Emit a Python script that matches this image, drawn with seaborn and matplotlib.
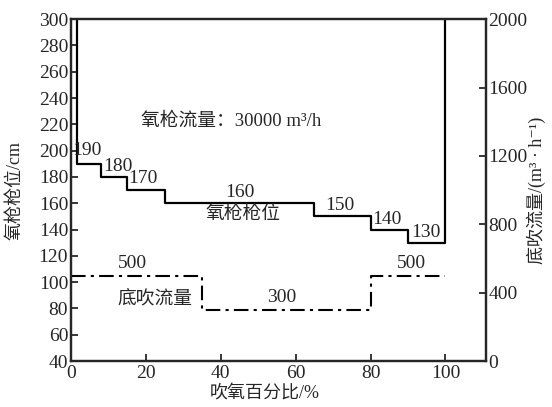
import numpy as np
import pandas as pd
import matplotlib
matplotlib.use("Agg")
from matplotlib import pyplot as plt
import seaborn as sns

# lance height steps (cm) vs oxygen blowing percentage
lance_breaks = [1.5, 8, 15, 25, 65, 80, 90, 100]
lance_levels = [190, 180, 170, 160, 150, 140, 130]
lance_top = 300

# bottom blowing flow (m3/h)
flow_breaks = [0, 35, 80, 100]
flow_levels = [500, 300, 500]

lance_label_pos = [(4.3, 200), (12.4, 188), (19.2, 178.5), (45, 168.5),
                   (71.7, 158.5), (84.3, 147.5), (94.8, 138)]
flow_label_pos = [(16.5, 114), (56.3, 88.5), (91, 114)]

sns.set_style("ticks")
num_font = ["Liberation Serif", "Noto Sans CJK SC", "DejaVu Sans"]
cjk_font = ["Noto Sans CJK SC", "DejaVu Sans"]
plt.rcParams["font.family"] = num_font

# build the step paths
lx, ly = [lance_breaks[0]], [lance_top]
for i, lv in enumerate(lance_levels):
    lx += [lance_breaks[i], lance_breaks[i + 1]]
    ly += [lv, lv]
lx.append(lance_breaks[-1])
ly.append(lance_top)
df_lance = pd.DataFrame({"x": lx, "y": ly})

fx, fy = [], []
for i, fv in enumerate(flow_levels):
    fx += [flow_breaks[i], flow_breaks[i + 1]]
    fy += [fv, fv]
df_flow = pd.DataFrame({"x": fx, "y": fy})

fig = plt.figure(figsize=(5.52, 4.07), dpi=100)
ax = fig.add_axes([0.1286, 0.113, 0.751, 0.840])
ax2 = ax.twinx()

sns.lineplot(data=df_lance, x="x", y="y", sort=False, estimator=None,
             color="black", linewidth=1.6, ax=ax)
sns.lineplot(data=df_flow, x="x", y="y", sort=False, estimator=None,
             color="black", linewidth=1.5, linestyle=(0, (7, 2.5, 1.5, 2.5)), ax=ax2)

ax.set_xlim(0, 110.7)
ax.set_ylim(40, 300)
ax2.set_ylim(0, 2000)
ax.set_xticks(range(0, 101, 20))
ax.set_yticks(range(40, 301, 20))
ax2.set_yticks(range(0, 2001, 400))

for a in (ax, ax2):
    for s in a.spines.values():
        s.set_visible(True)
        s.set_linewidth(1.6)
    a.tick_params(direction="in", length=5, width=1.3, labelsize=14, pad=2)
ax.tick_params(axis="x", pad=3)

for (tx, ty), lv in zip(lance_label_pos, lance_levels):
    ax.text(tx, ty, str(lv), ha="center", va="center", fontsize=14)
for (tx, ty), fv in zip(flow_label_pos, flow_levels):
    ax.text(tx, ty, str(fv), ha="center", va="center", fontsize=14)

ax.text(42.7, 222.5, "氧枪流量：30000 m³/h", ha="center", va="center",
        fontsize=13.5, family=num_font)
ax.text(45.9, 152.5, "氧枪枪位", ha="center", va="center", fontsize=13.5, family=cjk_font)
ax.text(22.4, 87, "底吹流量", ha="center", va="center", fontsize=13.5, family=cjk_font)

ax.set_xlabel("")
ax.set_ylabel("")
ax2.set_ylabel("")
fig.text(0.48, 0.033, "吹氧百分比/%", ha="center", va="center", fontsize=13, family=num_font)
fig.text(0.027, 0.533, "氧枪枪位/cm", ha="center", va="center", rotation=90,
         fontsize=13, family=num_font)
fig.text(0.972, 0.533, "底吹流量/(m³ · h⁻¹)", ha="center", va="center", rotation=90,
         fontsize=13, family=num_font)

fig.savefig("out.png", dpi=100)
